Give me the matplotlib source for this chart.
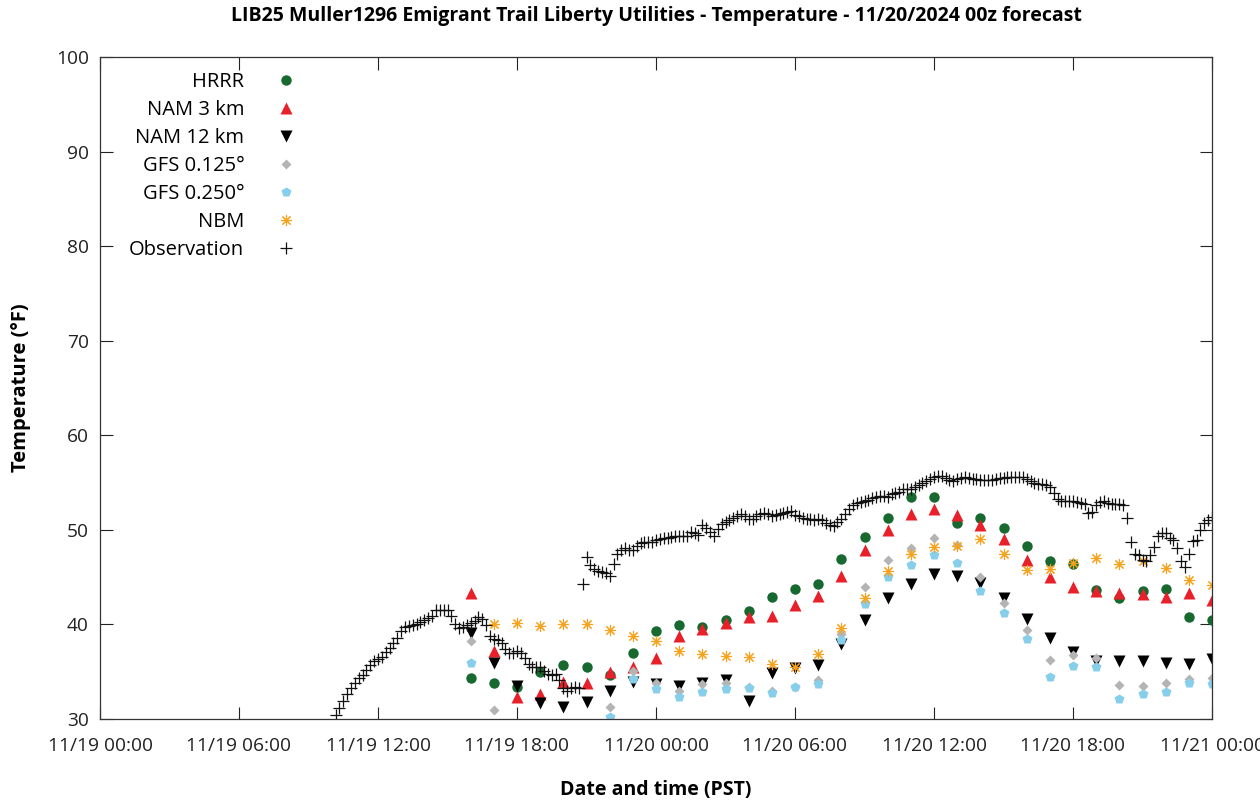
import matplotlib
matplotlib.use("Agg")
import matplotlib.pyplot as plt
import matplotlib.dates as mdates
import numpy as np
import pandas as pd

plt.rcParams['font.family'] = ['Open Sans', 'DejaVu Sans']

# ---------------- data ----------------
title = "LIB25 Muller1296 Emigrant Trail Liberty Utilities - Temperature - 11/20/2024 00z forecast"
model_start = "2024-11-19 16:00"
obs_start = "2024-11-19 10:10"

hrrr = [34.3, 33.8, 33.35, 35.0, 35.7, 35.5, 34.65, 37.0, 39.35, 39.9, 39.76, 40.47, 41.45, 42.87,
        43.7, 44.27, 46.9, 49.2, 51.3, 53.5, 53.5, 50.7, 51.3, 50.2, 48.3, 46.75, 46.4, 43.6,
        42.76, 43.57, 43.7, 40.8, 40.47]
nam3 = [43.3, 37.2, 32.3, 32.6, 33.95, 33.85, 35.0, 35.5, 36.5, 38.8, 39.5, 40.2, 40.75, 40.9,
        42.05, 43.0, 45.1, 47.9, 50.0, 51.7, 52.2, 51.57, 50.5, 49.0, 46.8, 45.05, 44.0, 43.55,
        43.36, 43.2, 42.9, 43.36, 42.6]
nam12 = [39.06, 35.9, 33.5, 31.66, 31.3, 31.85, 33.0, 33.95, 33.7, 33.5, 33.8, 34.1, 31.9, 34.9,
         35.4, 35.7, 37.9, 40.47, 42.75, 44.27, 45.3, 45.1, 44.35, 42.8, 40.6, 38.6, 37.1, 36.15,
         36.15, 36.15, 35.9, 35.8, 36.3]
gfs0125 = [38.2, 30.9, np.nan, np.nan, np.nan, np.nan, 31.25, 35.1, 33.85, 32.96, 33.7, 33.85, 33.4,
           33.0, 33.4, 34.1, 39.0, 44.0, 46.85, 48.1, 49.1, 48.4, 45.0, 42.3, 39.4, 36.2, 36.8,
           36.5, 33.6, 33.5, 33.76, 34.2, 34.3]
gfs0250 = [35.95, np.nan, np.nan, np.nan, np.nan, np.nan, 30.25, 34.2, 33.2, 32.36, 32.9, 33.2, 33.3,
           32.8, 33.35, 33.7, 38.35, 42.2, 45.05, 46.3, 47.35, 46.46, 43.57, 41.2, 38.5, 34.4, 35.6,
           35.5, 32.1, 32.6, 32.9, 33.76, 33.7]
nbm = [np.nan, 40.05, 40.1, 39.8, 40.05, 40.05, 39.4, 38.8, 38.25, 37.2, 36.9, 36.7, 36.6, 35.8,
       35.5, 36.9, 39.65, 42.8, 45.65, 47.5, 48.2, 48.3, 49.0, 47.45, 45.8, 45.9, 46.5, 47.0,
       46.35, 46.75, 46.0, 44.7, 44.2]

obs = [30.4, 31.2, 31.9, 32.6, 33.3,
       33.8, 34.3, 34.7, 35.2, 35.7, 36.1,
       36.3, 36.6, 37.1, 37.5, 38.0, 38.6,
       39.3, 39.7, 39.85, 39.9, 40.05, 40.3,
       40.5, 40.7, 40.9, 41.5, 41.5, 41.5,
       41.5, 40.9, 40.0, 39.6, 39.75, 39.9,
       40.1, 40.4, 40.8, 40.6, 39.9, 38.8,
       38.5, 38.4, 38.0, 37.4, 37.0, 37.0,
       37.2, 37.0, 36.4, 35.8, 35.5, 35.5,
       35.5, 35.1, 34.75, 34.65, 34.8, 34.1,
       33.3, 33.0, 33.3, 33.4, 33.3, 44.3,
       47.1, 46.3, 45.9, 45.6, 45.5, 45.4,
       45.1, 46.4, 47.5, 47.9, 48.1, 47.9,
       47.9, 48.3, 48.6, 48.75, 48.75, 48.75,
       48.9, 49.05, 49.1, 49.1, 49.25, 49.4,
       49.4, 49.3, 49.4, 49.75, 49.65, 49.45,
       50.5, 50.2, 49.8, 49.3, 50.1, 50.6,
       50.8, 51.0, 51.25, 51.5, 51.7, 51.5,
       51.2, 51.2, 51.5, 51.7, 51.8, 51.7,
       51.5, 51.55, 51.65, 51.8, 51.9, 51.95,
       51.55, 51.45, 51.3, 51.15, 51.1, 51.0,
       51.1, 51.0, 50.7, 50.5, 50.4, 50.8,
       51.2, 51.7, 52.2, 52.6, 52.85, 52.95,
       53.05, 53.2, 53.35, 53.5, 53.6, 53.6,
       53.5, 53.8, 53.95, 54.05, 54.3, 54.3,
       54.35, 54.5, 54.75, 54.95, 55.2, 55.4,
       55.55, 55.7, 55.65, 55.5, 55.3, 55.2,
       55.4, 55.5, 55.6, 55.5, 55.4, 55.35,
       55.3, 55.3, 55.3, 55.3, 55.35, 55.45,
       55.5, 55.6, 55.6, 55.6, 55.6, 55.6,
       55.4, 55.2, 55.0, 54.9, 54.8, 54.7,
       54.5, 53.9, 53.3, 53.1, 53.1, 53.1,
       53.0, 52.9, 52.85, 52.7, 51.75, 51.9,
       52.6, 52.95, 53.1, 52.8, 52.7, 52.7,
       52.7, 52.6, 51.3, 48.7, 47.4, 47.35,
       46.8, 46.7, 47.3, 48.2, 49.4, 49.7,
       49.65, 49.1, 48.9, 48.1, 46.7, 46.1,
       47.4, 48.8, 48.9, 50.0, 50.7, 51.0,
       51.4]

x_start = "2024-11-19 00:00"
x_end = "2024-11-21 00:00"
y_ticks = [30, 40, 50, 60, 70, 80, 90, 100]

model_times = pd.date_range(model_start, periods=len(hrrr), freq="1h")
obs_times = pd.date_range(obs_start, periods=len(obs), freq="10min")

# ---------------- figure ----------------
fig = plt.figure(figsize=(12.6, 8.01), dpi=100)
ax = fig.add_axes([100 / 1260, 1 - 719 / 801, 1112 / 1260, (719 - 57) / 801])

ax.plot(model_times, hrrr, ls="none", marker="o", ms=7.5, color="#17692f", mec="none", label="HRRR")
ax.plot(model_times, nam3, ls="none", marker="^", ms=8, color="#e8202a", mec="none", label="NAM 3 km")
ax.plot(model_times, nam12, ls="none", marker="v", ms=8, color="#000000", mec="none", label="NAM 12 km")
ax.plot(model_times, gfs0125, ls="none", marker="D", ms=5.5, color="#b4b4b4", mec="none", label="GFS 0.125°")
ax.plot(model_times, gfs0250, ls="none", marker="p", ms=7.5, color="#87ceeb", mec="none", label="GFS 0.250°")
ax.plot(model_times, nbm, ls="none", marker=(8, 2, 0), ms=8, mew=0.8, color="#f7a21b", label="NBM")
ax.plot(obs_times, obs, ls="none", marker="+", ms=9, mew=0.9, color="#111111", label="Observation")

ax.set_xlim(pd.Timestamp(x_start), pd.Timestamp(x_end))
ax.set_ylim(30, 100)
ax.set_yticks(y_ticks)
ax.xaxis.set_major_locator(mdates.HourLocator(byhour=[0, 6, 12, 18]))
ax.xaxis.set_major_formatter(mdates.DateFormatter("%m/%d %H:%M"))

ax.tick_params(axis="both", direction="in", length=9, width=0.8, top=True, right=True,
               labelsize=13.8, colors="#222222")
ax.tick_params(axis="x", pad=13)
ax.tick_params(axis="y", pad=8)
for sp in ax.spines.values():
    sp.set_color("#333333")
    sp.set_linewidth(0.9)

ax.set_title(title, fontsize=14, fontweight="bold", pad=26)
ax.set_xlabel("Date and time (PST)", fontsize=14, fontweight="bold", labelpad=18)
ax.set_ylabel("Temperature (°F)", fontsize=14.5, fontweight="bold", labelpad=18)

leg = ax.legend(loc="upper left", bbox_to_anchor=(0.019, 0.99), markerfirst=False, frameon=False,
                fontsize=14.5, handlelength=1.5, handletextpad=1.3, labelspacing=0.4,
                borderaxespad=0.0, numpoints=1)

fig.savefig("out.png", dpi=100)
